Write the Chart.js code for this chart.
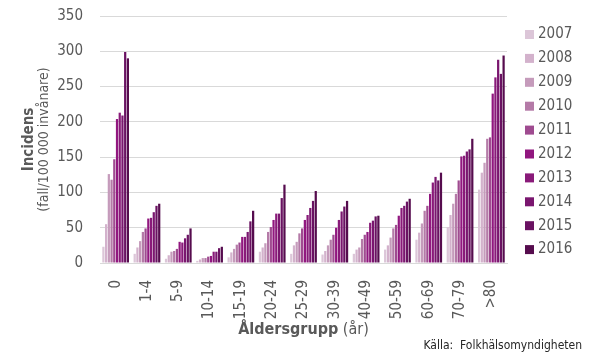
<!DOCTYPE html>
<html><head><meta charset="utf-8">
<script src="https://cdn.jsdelivr.net/npm/chart.js@4/dist/chart.umd.min.js"></script>
<style>html,body{margin:0;padding:0;background:#fff;overflow:hidden}</style>
</head><body>
<canvas id="c" width="590" height="355" style="width:590px;height:355px;display:block"></canvas>
<script>
const categories = ['0','1-4','5-9','10-14','15-19','20-24','25-29','30-39','40-49','50-59','60-69','70-79','>80'];
const years = ['2007','2008','2009','2010','2011','2012','2013','2014','2015','2016'];
const v2007 = [23, 13, 6, 3, 8, 16, 13, 12, 13, 19, 33, 51, 104];
const v2008 = [55, 22, 11, 5, 15, 22, 25, 17, 19, 25, 43, 68, 128];
const v2009 = [126, 31, 16, 7, 20, 28, 30, 25, 22, 36, 56, 84, 142];
const v2010 = [118, 44, 17, 7, 26, 44, 42, 33, 34, 49, 74, 98, 176];
const v2011 = [147, 49, 20, 9, 29, 51, 49, 40, 40, 54, 81, 117, 178];
const v2012 = [204, 63, 30, 10, 37, 61, 61, 50, 44, 67, 98, 151, 240];
const v2013 = [213, 64, 29, 16, 37, 70, 68, 61, 57, 78, 114, 152, 263];
const v2014 = [209, 72, 35, 16, 44, 70, 78, 73, 60, 81, 122, 158, 288];
const v2015 = [299, 81, 40, 21, 59, 92, 88, 80, 66, 87, 117, 161, 268];
const v2016 = [290, 84, 49, 23, 74, 111, 102, 88, 67, 91, 128, 176, 294];
const seriesValues = [v2007, v2008, v2009, v2010, v2011, v2012, v2013, v2014, v2015, v2016];
const colors = ['#dcc6d8','#d3b2cc','#c59bbb','#b47aa7','#9f4b90','#91177f','#891a79','#7a166f','#6a1262','#560c4e'];
const yMin = 0, yMax = 350, yStep = 50;

const FONT = "'DejaVu Sans Condensed', 'DejaVu Sans', sans-serif";
const TXT = '#595959';

const overlay = {
  id: 'overlay',
  afterDraw(chart) {
    const ctx = chart.ctx;
    const a = chart.chartArea;
    const cy = (a.top + a.bottom) / 2;
    ctx.save();
    ctx.fillStyle = TXT;
    ctx.textAlign = 'center';
    ctx.textBaseline = 'alphabetic';
    // Y title
    ctx.save();
    ctx.translate(33, cy);
    ctx.rotate(-Math.PI / 2);
    ctx.font = 'bold 15px ' + FONT;
    ctx.fillText('Incidens', 0, 0);
    ctx.restore();
    ctx.save();
    ctx.translate(48, cy);
    ctx.rotate(-Math.PI / 2);
    ctx.font = '14px ' + FONT;
    ctx.fillText('(fall/100 000 invånare)', 0, 0);
    ctx.restore();
    // X title
    ctx.font = 'bold 16px ' + FONT;
    const t1 = 'Åldersgrupp';
    const w1 = ctx.measureText(t1).width;
    ctx.font = '16px ' + FONT;
    const t2 = ' (år)';
    const w2 = ctx.measureText(t2).width;
    const cx = (a.left + a.right) / 2;
    const x0 = cx - (w1 + w2) / 2;
    ctx.textAlign = 'left';
    ctx.font = 'bold 16px ' + FONT;
    ctx.fillText(t1, x0, 334);
    ctx.font = '16px ' + FONT;
    ctx.fillText(t2, x0 + w1, 334);
    // Source
    ctx.fillStyle = '#262626';
    ctx.font = '12px ' + FONT;
    ctx.textAlign = 'right';
    ctx.fillText('Källa:  Folkhälsomyndigheten', 582, 349);
    // Legend
    ctx.textAlign = 'left';
    ctx.textBaseline = 'middle';
    ctx.font = '15px ' + FONT;
    chart.data.datasets.forEach((ds, i) => {
      const y = 34 + i * 23.9;
      ctx.fillStyle = ds.backgroundColor;
      ctx.fillRect(525, y - 4, 9, 9);
      ctx.fillStyle = TXT;
      ctx.fillText(ds.label, 538, y + 0.5);
    });
    ctx.restore();
  }
};

new Chart(document.getElementById('c'), {
  type: 'bar',
  data: {
    labels: categories,
    datasets: years.map((y, i) => ({
      label: y,
      data: seriesValues[i],
      backgroundColor: colors[i],
      borderWidth: 0,
      categoryPercentage: 0.87,
      barPercentage: 0.82
    }))
  },
  options: {
    responsive: false,
    devicePixelRatio: 1,
    animation: false,
    layout: { padding: { top: 16, right: 83, bottom: 0, left: 0 } },
    plugins: { legend: { display: false }, tooltip: { enabled: false } },
    scales: {
      x: {
        grid: { display: false },
        border: { display: true, color: '#d9d9d9', width: 1 },
        ticks: { minRotation: 90, maxRotation: 90, autoSkip: false, color: TXT, font: { family: FONT, size: 15 }, padding: 9 },
        afterFit(s) { s.height = 92; }
      },
      y: {
        min: yMin, max: yMax,
        ticks: { stepSize: yStep, color: TXT, font: { family: FONT, size: 15 }, padding: 0 },
        grid: { color: '#d9d9d9', drawTicks: true, tickLength: 17, tickColor: 'rgba(0,0,0,0)' },
        border: { display: false },
        afterFit(s) { s.width = 100; }
      }
    }
  },
  plugins: [overlay]
});
</script>
</body></html>
